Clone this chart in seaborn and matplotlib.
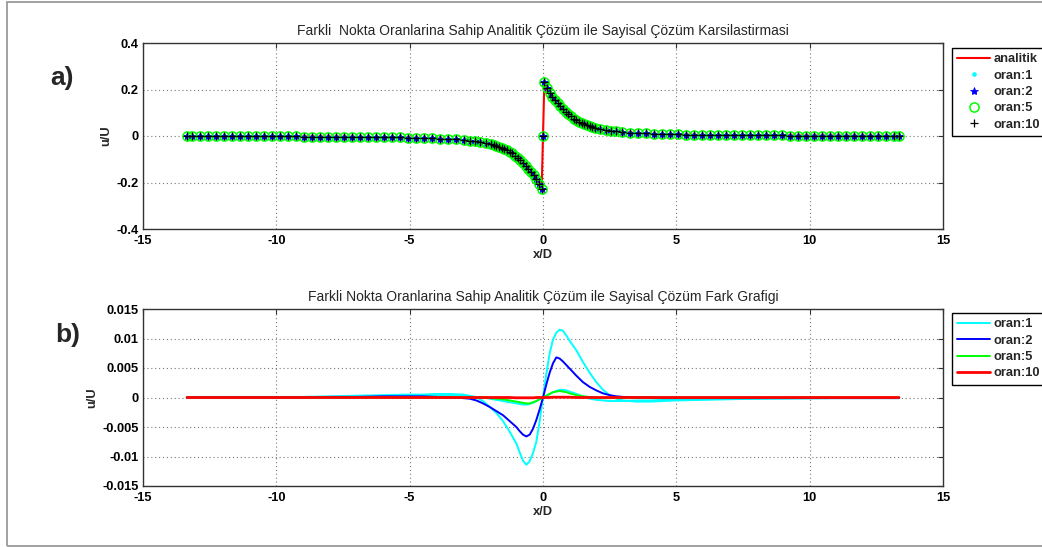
import matplotlib
matplotlib.use("Agg")
import matplotlib.pyplot as plt
import seaborn as sns
from matplotlib.patches import Rectangle

sns.set_style("white")
plt.rcParams['font.family'] = ['Liberation Sans', 'DejaVu Sans']

# ---------------- data: panel a (analytic solution, sampled points) ----------------
x_an = [-13.35, -13.15, -12.85, -12.55, -12.25, -11.95, -11.65, -11.35, -11.05, -10.75,
        -10.45, -10.15, -9.85, -9.55, -9.25, -8.95, -8.65, -8.35, -8.05, -7.75,
        -7.45, -7.15, -6.85, -6.55, -6.25, -5.95, -5.65, -5.35, -5.05, -4.75,
        -4.45, -4.15, -3.85, -3.55, -3.25, -2.95, -2.75, -2.55, -2.35, -2.15,
        -1.95, -1.85, -1.75, -1.65, -1.55, -1.45, -1.35, -1.25, -1.15, -1.05,
        -0.95, -0.85, -0.75, -0.65, -0.55, -0.45, -0.35, -0.25, -0.15, -0.05,
        0.0,
        0.05, 0.15, 0.25, 0.35, 0.45, 0.55, 0.65, 0.75, 0.85, 0.95,
        1.05, 1.15, 1.25, 1.35, 1.45, 1.55, 1.65, 1.75, 1.85, 1.95,
        2.15, 2.35, 2.55, 2.75, 2.95, 3.25, 3.55, 3.85, 4.15, 4.45,
        4.75, 5.05, 5.35, 5.65, 5.95, 6.25, 6.55, 6.85, 7.15, 7.45,
        7.75, 8.05, 8.35, 8.65, 8.95, 9.25, 9.55, 9.85, 10.15, 10.45,
        10.75, 11.05, 11.35, 11.65, 11.95, 12.25, 12.55, 12.85, 13.15, 13.35]
u_an = [-0.0006, -0.0007, -0.0008, -0.0009, -0.001, -0.0011, -0.0012, -0.0013, -0.0014, -0.0015,
        -0.0016, -0.0017, -0.0018, -0.0019, -0.0021, -0.0022, -0.0024, -0.0026, -0.0028, -0.003,
        -0.0032, -0.0035, -0.0038, -0.0041, -0.0045, -0.0049, -0.0054, -0.006, -0.0067, -0.0075,
        -0.0085, -0.0095, -0.011, -0.013, -0.015, -0.018, -0.020, -0.023, -0.027, -0.031,
        -0.036, -0.039, -0.042, -0.046, -0.050, -0.055, -0.061, -0.067, -0.075, -0.084,
        -0.094, -0.104, -0.115, -0.127, -0.140, -0.153, -0.168, -0.185, -0.205, -0.228,
        0.0,
        0.232, 0.207, 0.186, 0.168, 0.153, 0.140, 0.127, 0.115, 0.104, 0.094,
        0.084, 0.075, 0.067, 0.061, 0.055, 0.050, 0.046, 0.042, 0.039, 0.036,
        0.031, 0.027, 0.023, 0.020, 0.018, 0.015, 0.013, 0.011, 0.0095, 0.0085,
        0.0075, 0.0067, 0.006, 0.0054, 0.0049, 0.0045, 0.0041, 0.0038, 0.0035, 0.0032,
        0.003, 0.0028, 0.0026, 0.0024, 0.0022, 0.0021, 0.0019, 0.0018, 0.0017, 0.0016,
        0.0015, 0.0014, 0.0013, 0.0012, 0.0011, 0.001, 0.0009, 0.0008, 0.0007, 0.0006]

series_a = ['analitik', 'oran:1', 'oran:2', 'oran:5', 'oran:10']

# ---------------- data: panel b (difference curves) ----------------
x_d = [-13.35, -11, -9, -8, -7, -6, -5, -4.5, -4, -3.5,
       -3, -2.75, -2.5, -2.25, -2, -1.75, -1.5, -1.25, -1.0, -0.875,
       -0.75, -0.625, -0.5, -0.375, -0.25, -0.125, 0,
       0.125, 0.25, 0.375, 0.5, 0.625, 0.75, 0.875, 1.0, 1.25, 1.5,
       1.75, 2.0, 2.25, 2.5, 2.75, 3.0, 3.5, 4, 4.5, 5,
       6, 7, 8, 9, 11, 13.35]
d_oran1 = [0.0001, 0.0001, 0.0001, 0.0002, 0.0003, 0.0004, 0.0005, 0.0005, 0.0006, 0.0006,
           0.0005, 0.0003, 0.0, -0.0006, -0.0016, -0.0026, -0.0040, -0.0058, -0.0078, -0.0093,
           -0.0107, -0.0114, -0.0108, -0.0094, -0.0075, -0.0040, 0.0,
           0.0040, 0.0075, 0.0098, 0.0110, 0.0115, 0.0113, 0.0105, 0.0096, 0.0080, 0.0060,
           0.0042, 0.0026, 0.0013, 0.0004, -0.0002, -0.0005, -0.0007, -0.0007, -0.0006, -0.0005,
           -0.0004, -0.0003, -0.0002, -0.0002, -0.0001, -0.0001]
d_oran1_b = [0.0, 0.0, 0.0, 0.0, 0.0001, 0.0002, 0.0003, 0.0003, 0.0004, 0.0004,
             0.0003, 0.0002, 0.0001, 0.0, -0.0002, -0.0004, -0.0006, -0.0008, -0.0010, -0.0011,
             -0.0012, -0.0012, -0.0011, -0.0009, -0.0006, -0.0003, 0.0,
             0.0003, 0.0006, 0.0009, 0.0011, 0.0013, 0.0013, 0.0012, 0.0010, 0.0006, 0.0002,
             -0.0002, -0.0004, -0.0005, -0.0006, -0.0006, -0.0006, -0.0005, -0.0005, -0.0004, -0.0003,
             -0.0003, -0.0002, -0.0002, -0.0001, -0.0001, -0.0001]
d_oran2 = [0.0, 0.0, 0.0, 0.0001, 0.0001, 0.0002, 0.0002, 0.0002, 0.0001, 0.0,
           -0.0001, -0.0002, -0.0005, -0.0010, -0.0016, -0.0023, -0.0030, -0.0040, -0.0050, -0.0057,
           -0.0063, -0.0066, -0.0063, -0.0053, -0.0038, -0.0020, 0.0,
           0.0022, 0.0042, 0.0058, 0.0068, 0.0066, 0.0061, 0.0055, 0.0049, 0.0037, 0.0026,
           0.0018, 0.0012, 0.0007, 0.0004, 0.0002, 0.0001, 0.0, 0.0, -0.0001, -0.0001,
           -0.0001, -0.0001, -0.0001, -0.0001, -0.0001, -0.0001]
d_oran5 = [0.0, 0.0, 0.0, 0.0, 0.0, 0.0, 0.0, 0.0, 0.0, 0.0,
           0.0, 0.0, 0.0, 0.0, -0.0001, -0.0002, -0.0003, -0.0005, -0.0007, -0.0008,
           -0.0009, -0.0010, -0.0010, -0.0008, -0.0006, -0.0003, 0.0,
           0.0003, 0.0006, 0.0009, 0.0010, 0.0011, 0.0010, 0.0009, 0.0007, 0.0004, 0.0002,
           0.0001, 0.0, -0.0001, -0.0001, -0.0001, -0.0001, 0.0, 0.0, 0.0, 0.0,
           0.0, 0.0, 0.0, 0.0, 0.0, 0.0]
d_oran10 = [0.0, 0.0, 0.0, 0.0, 0.0, 0.0, 0.0, 0.0, 0.0, 0.0,
            0.0, 0.0, 0.0, 0.0, 0.0, 0.0, 0.0, 0.0, -0.00005, -0.00005,
            -0.00005, -0.00005, -0.00005, -0.00005, 0.0, 0.0, 0.0,
            0.0, 0.0, 0.00005, 0.00005, 0.00005, 0.00005, 0.00005, 0.00005, 0.0, 0.0,
            0.0, 0.0, 0.0, 0.0, 0.0, 0.0, 0.0, 0.0, 0.0, 0.0,
            0.0, 0.0, 0.0, 0.0, 0.0, 0.0]

x_ticks = [-15, -10, -5, 0, 5, 10, 15]
x_ticklabels = ['-15', '-10', '-5', '0', '5', '10', '15']
ya_ticks = [-0.4, -0.2, 0, 0.2, 0.4]
ya_ticklabels = ['-0.4', '-0.2', '0', '0.2', '0.4']
yb_ticks = [-0.015, -0.01, -0.005, 0, 0.005, 0.01, 0.015]
yb_ticklabels = ['-0.015', '-0.01', '-0.005', '0', '0.005', '0.01', '0.015']

title_a = 'Farkli  Nokta Oranlarina Sahip Analitik Çözüm ile Sayisal Çözüm Karsilastirmasi'
title_b = 'Farkli Nokta Oranlarina Sahip Analitik Çözüm ile Sayisal Çözüm Fark Grafigi'

# ---------------- figure ----------------
W, H = 1042, 547
fig = plt.figure(figsize=(W / 100, H / 100), dpi=100)
fig.patch.set_facecolor('white')
fig.add_artist(Rectangle((7 / W, 1 - 546 / H), 1.2, (544) / H, transform=fig.transFigure,
                         fill=False, edgecolor='#9a9a9a', lw=1.3, clip_on=False))

ax1 = fig.add_axes([143 / W, 1 - 229 / H, 800 / W, 186 / H])
ax2 = fig.add_axes([143 / W, 1 - 486 / H, 800 / W, 177 / H])

FS = 9.3
TFS = 10
common = dict(ax=ax1, estimator=None, sort=False)
sns.lineplot(x=x_an, y=u_an, color='red', lw=1.5, label=series_a[0], **common)
sns.lineplot(x=x_an, y=u_an, linestyle='', marker='.', markersize=5, color='cyan',
             mec='cyan', mfc='cyan', mew=0.8, label=series_a[1], **common)
sns.lineplot(x=x_an, y=u_an, linestyle='', marker='*', markersize=6, color='blue',
             mec='blue', mfc='blue', mew=0.6, label=series_a[2], **common)
sns.lineplot(x=x_an, y=u_an, linestyle='', marker='o', markersize=6.6, color='#00ff00',
             mec='#00ff00', mfc='none', mew=1.1, label=series_a[3], **common)
sns.lineplot(x=x_an, y=u_an, linestyle='', marker='+', markersize=6, color='black',
             mec='black', mew=0.9, label=series_a[4], **common)

common2 = dict(ax=ax2, estimator=None, sort=False)
sns.lineplot(x=x_d, y=d_oran1_b, color='cyan', lw=1.4, **common2)
sns.lineplot(x=x_d, y=d_oran1, color='cyan', lw=1.4, label='oran:1', **common2)
sns.lineplot(x=x_d, y=d_oran2, color='blue', lw=1.4, label='oran:2', **common2)
sns.lineplot(x=x_d, y=d_oran5, color='#00ff00', lw=1.4, label='oran:5', **common2)
sns.lineplot(x=x_d, y=d_oran10, color='red', lw=2.0, label='oran:10', **common2)

for ax, yt, ytl, ylim, title in [
        (ax1, ya_ticks, ya_ticklabels, (-0.4, 0.4), title_a),
        (ax2, yb_ticks, yb_ticklabels, (-0.015, 0.015), title_b)]:
    ax.set_xlim(-15, 15)
    ax.set_ylim(*ylim)
    ax.set_xticks(x_ticks, x_ticklabels, fontsize=FS, fontweight='bold')
    ax.set_yticks(yt, ytl, fontsize=FS, fontweight='bold')
    ax.tick_params(axis='x', pad=4.5)
    ax.tick_params(axis='y', pad=3)
    ax.tick_params(direction='in', length=3.5, width=0.8, top=True, right=True,
                   colors='#333333', labelcolor='black')
    ax.grid(True, linestyle=(0, (1, 2.5)), color='#777777', lw=0.8)
    ax.set_axisbelow(True)
    for sp in ax.spines.values():
        sp.set_visible(True)
        sp.set_color('#333333')
        sp.set_linewidth(1.0)
    ax.set_title(title, fontsize=TFS, pad=6)
    ax.set_xlabel('x/D', fontsize=FS, fontweight='bold', labelpad=1.5)
    ax.set_ylabel('u/U', fontsize=FS, fontweight='bold', labelpad=3)

for ax, top in [(ax1, 48), (ax2, 313)]:
    h, l = ax.get_legend_handles_labels()
    leg = ax.legend(h, l, loc='upper left', bbox_to_anchor=(952 / W, 1 - top / H),
                    bbox_transform=fig.transFigure, borderaxespad=0, frameon=True,
                    fancybox=False, edgecolor='black', framealpha=1, numpoints=1,
                    prop={'size': FS, 'weight': 'bold'}, handlelength=2.55,
                    handletextpad=0.25, labelspacing=0.33, borderpad=0.42)
    leg.get_frame().set_linewidth(1.0)

fig.text(50 / W, 1 - 78 / H, 'a)', fontsize=19, fontweight='bold', va='center', ha='left')
fig.text(55 / W, 1 - 335 / H, 'b)', fontsize=19, fontweight='bold', va='center', ha='left')

fig.savefig('out.png', dpi=100)
